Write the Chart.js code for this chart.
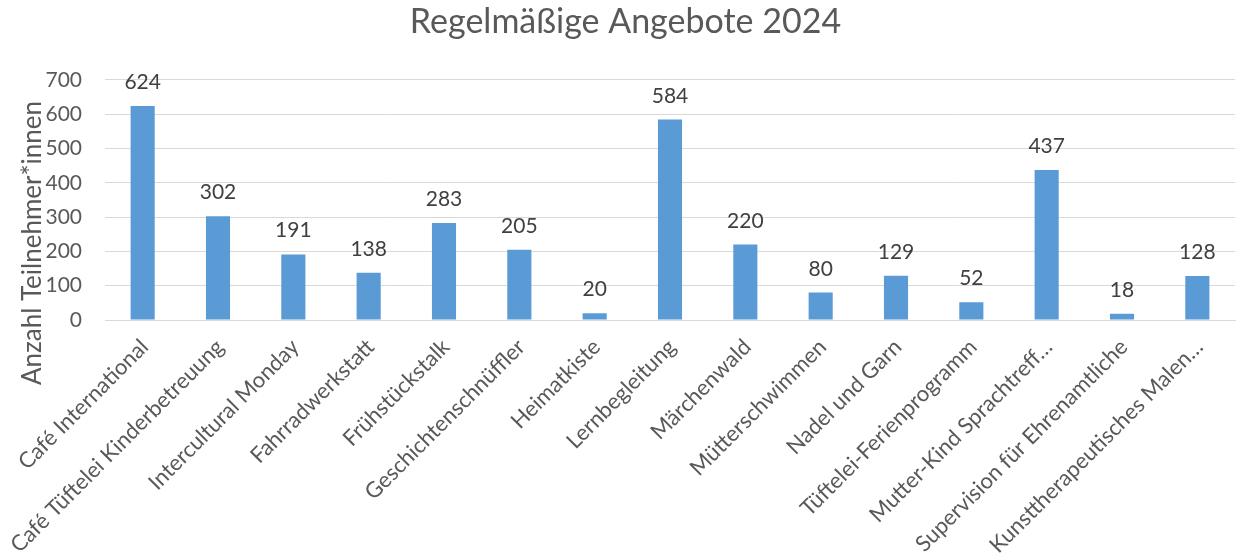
<!DOCTYPE html>
<html>
<head>
<meta charset="utf-8">
<script src="https://cdn.jsdelivr.net/npm/chart.js@4"></script>
<style>
  html, body { margin: 0; padding: 0; background: #fff; }
  #wrap { width: 1248px; height: 560px; }
</style>
</head>
<body>
<div id="wrap"><canvas id="angebote"></canvas></div>
<script>
var labels = [
  'Café International', 'Café Tüftelei Kinderbetreuung', 'Intercultural Monday',
  'Fahrradwerkstatt', 'Frühstückstalk', 'Geschichtenschnüffler', 'Heimatkiste',
  'Lernbegleitung', 'Märchenwald', 'Mütterschwimmen', 'Nadel und Garn',
  'Tüftelei-Ferienprogramm', 'Mutter-Kind Sprachtreff…',
  'Supervision für Ehrenamtliche', 'Kunsttherapeutisches Malen…'
];
var teilnehmer = [624, 302, 191, 138, 283, 205, 20, 584, 220, 80, 129, 52, 437, 18, 128];
var yTicks = [0, 100, 200, 300, 400, 500, 600, 700];
var yTitel = 'Anzahl Teilnehmer*innen';

var FONT = 'Lato, "Open Sans", sans-serif';

// Werte über den Balken + Achsentitel links
var extras = {
  id: 'extras',
  afterDatasetsDraw: function(chart) {
    var ctx = chart.ctx;
    var meta = chart.getDatasetMeta(0);
    ctx.save();
    ctx.font = '21px ' + FONT;
    ctx.fillStyle = '#404040';
    ctx.textAlign = 'center';
    ctx.textBaseline = 'alphabetic';
    meta.data.forEach(function(bar, i) {
      ctx.fillText(String(teilnehmer[i]), bar.x, bar.y - 17);
    });
    ctx.restore();

    ctx.save();
    ctx.translate(33, 243);
    ctx.rotate(-Math.PI / 2);
    ctx.font = '26px ' + FONT;
    ctx.fillStyle = '#595959';
    ctx.textAlign = 'center';
    ctx.textBaseline = 'middle';
    ctx.fillText(yTitel, 0, 0);
    ctx.restore();
  }
};

new Chart(document.getElementById('angebote').getContext('2d'), {
  type: 'bar',
  data: {
    labels: labels,
    datasets: [{
      data: teilnehmer,
      backgroundColor: '#5B9BD5',
      barPercentage: 0.32,
      categoryPercentage: 1.0
    }]
  },
  options: {
    responsive: true,
    maintainAspectRatio: false,
    animation: false,
    layout: { padding: { right: 13, bottom: 0, top: 0, left: 16 } },
    plugins: {
      legend: { display: false },
      tooltip: { enabled: false },
      title: {
        display: true,
        text: 'Regelmäßige Angebote 2024',
        color: '#595959',
        font: { family: FONT, size: 34, weight: 'normal' },
        padding: { top: 2, bottom: 37 }
      }
    },
    scales: {
      x: {
        grid: { display: false, drawTicks: false },
        border: { color: '#d9d9d9', width: 1 },
        ticks: {
          color: '#595959',
          font: { family: FONT, size: 22 },
          maxRotation: 45,
          minRotation: 45,
          autoSkip: false,
          padding: 14,
          labelOffset: 2
        },
        afterFit: function(scale) { scale.height = 240; }
      },
      y: {
        min: 0,
        max: 700,
        afterBuildTicks: function(scale) {
          scale.ticks = yTicks.map(function(v) { return { value: v }; });
        },
        grid: { color: '#d9d9d9', drawTicks: false },
        border: { display: false },
        ticks: {
          color: '#595959',
          font: { family: FONT, size: 21 },
          padding: 23
        },
        afterFit: function(scale) { scale.width = 89; }
      }
    }
  },
  plugins: [extras]
});
</script>
</body>
</html>
